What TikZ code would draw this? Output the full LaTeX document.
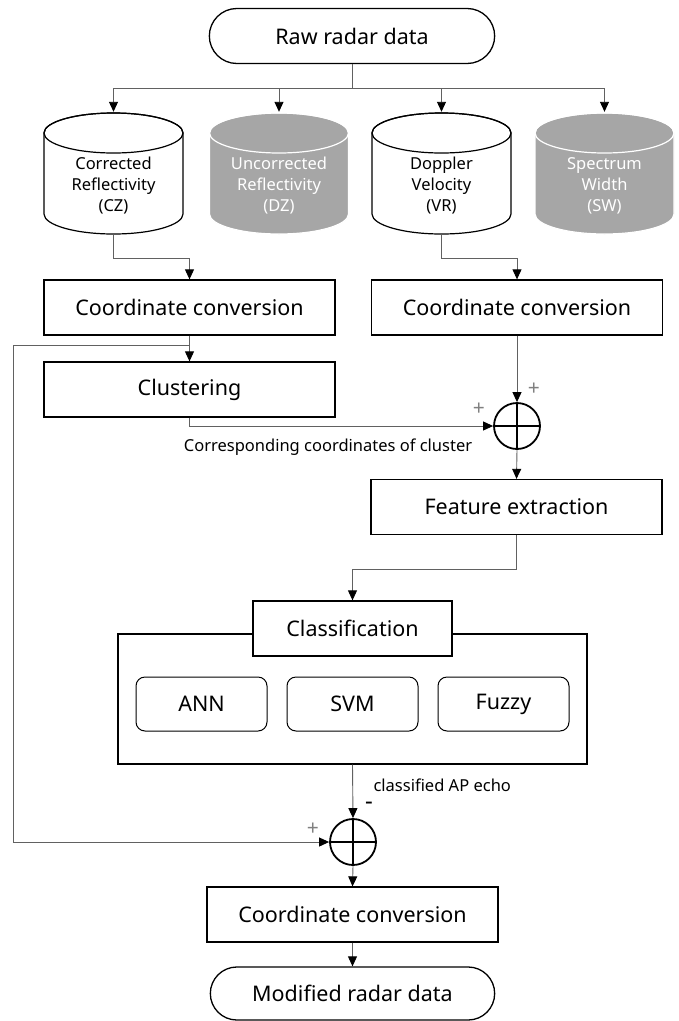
\documentclass[tikz,border=0pt]{standalone}
\usepackage{fontspec}
\setmainfont{Noto Sans}
\usetikzlibrary{shapes.misc}
\usetikzlibrary{arrows.meta}
\usetikzlibrary{positioning}
\definecolor{drumgray}{rgb}{0.65,0.65,0.65}
\definecolor{wiregray}{rgb}{0.38,0.38,0.38}

% cylinder outline inside a node's box
\newcommand\drumshape[2]{%
  \path[fill=#1, draw=#2, line width=1.2pt]
    ([xshift=1pt,yshift=-21pt]path picture bounding box.north west)
    -- ([xshift=1pt,yshift=21pt]path picture bounding box.south west)
    arc[start angle=180, end angle=360, x radius=69.5pt, y radius=20pt]
    -- ([xshift=-1pt,yshift=-21pt]path picture bounding box.north east)
    arc[start angle=0, end angle=180, x radius=69.5pt, y radius=20pt]
    -- cycle;
  \draw[#2, line width=1.2pt] ([yshift=-21pt]path picture bounding box.north)
    ellipse[x radius=69.5pt, y radius=20pt];}

\begin{document}
\begin{tikzpicture}[
  x=1pt, y=-1pt,
  box/.style={rectangle, draw, line width=1.3pt, fill=white, minimum width=291pt, minimum height=55pt, font=\fontsize{21.5}{26}\selectfont},
  term/.style={rounded rectangle, draw, line width=1.3pt, minimum width=292pt, minimum height=55pt, font=\fontsize{21.5}{26}\selectfont},
  drum/.style={rectangle, fill=white, inner sep=0pt, minimum width=141pt, minimum height=123pt, align=center, font=\fontsize{16.5}{21}\selectfont, path picture={\drumshape{white}{black}}},
  drumoff/.style={drum, text=white, path picture={\drumshape{drumgray}{white}}},
  algo/.style={rectangle, rounded corners=9pt, draw, line width=1pt, minimum width=131pt, minimum height=54pt, font=\fontsize{21.5}{26}\selectfont},
  adder/.style={circle, draw, line width=1.8pt, minimum size=46pt, inner sep=0pt},
  wire/.style={draw=wiregray, line width=0.9pt},
  go/.style={wire, -{Triangle[width=9pt,length=10pt,black]}},
  sign/.style={text=gray, font=\fontsize{21}{21}\selectfont},
  note/.style={font=\fontsize{16.5}{19}\selectfont}]
  \useasboundingbox (0,0) rectangle (678,1021);

  % inputs
  \node[term] (raw) at (352,36) {Raw radar data};
  \node[drum] (cz) at (113.5,173.5) {\mbox{}\\[16pt]Corrected\\Reflectivity\\(CZ)};
  \node[drumoff] (dz) at (279,173.5) {\mbox{}\\[16pt]Uncorrected\\Reflectivity\\(DZ)};
  \node[drum] (vr) at (441.5,173.5) {\mbox{}\\[16pt]Doppler\\Velocity\\(VR)};
  \node[drumoff] (sw) at (604.5,173.5) {\mbox{}\\[16pt]Spectrum\\Width\\(SW)};
  \coordinate (split) at (352,88);

  % processing
  \node[box] (ccl) at (189.5,307.5) {Coordinate conversion};
  \node[box] (ccr) at (517,307.5) {Coordinate conversion};
  \node[box] (clus) at (189.5,389.5) {Clustering};
  \node[adder] (add1) at (517,426) {};
  \node[box] (feat) at (516.5,507) {Feature extraction};
  \node[rectangle, draw, line width=1.3pt, minimum width=469pt, minimum height=130pt] (grp) at (352.5,699) {};
  \node[box, minimum width=199pt] (cls) at (352.5,628.5) {Classification};
  \node[algo] (svm) at (352.5,704) {SVM};
  \node[algo, left=19pt of svm] (ann) {ANN};
  \node[algo, right=19pt of svm] (fuzzy) {Fuzzy};
  \node[adder] (add2) at (353,842) {};
  \node[box] (ccb) at (352.5,914.5) {Coordinate conversion};
  \node[term, minimum width=291pt, minimum height=53pt] (mod) at (352.5,993.5) {Modified radar data};
  \coordinate (fb) at (13,345);

  % connectors
  \draw[wire] (raw.south) -- (split);
  \draw[wire] (cz.north |- split) -- (sw.north |- split);
  \foreach \c in {cz,dz,vr,sw}
    \draw[go] (\c.north |- split) -- (\c.north);
  \draw[go] (cz.south) -- ++(0,23) -| (ccl.north);
  \draw[go] (vr.south) -- ++(0,23) -| (ccr.north);
  \draw[go] (ccl.south) -- (clus.north);
  \draw[go] (ccl.south |- fb) -- (fb) |- (add2.west);
  \draw[go] (clus.south) |- (add1.west);
  \draw[go] (ccr.south) -- (add1.north);
  \draw[go] (add1.south) -- (feat.north);
  \draw[go] (feat.south) -- ++(0,34) -| (cls.north);
  \draw[go] (grp.south) -- (add2.north);
  \draw[go] (add2.south) -- (ccb.north);
  \draw[go] (ccb.south) -- (mod.north);
  \foreach \a in {add1,add2}
    \draw[line width=1.8pt] (\a.north) -- (\a.south) (\a.west) -- (\a.east);

  % labels
  \node[note] (cortxt) at (328,447) {Corresponding coordinates of cluster};
  \node[note, anchor=west] (echo) at (370,785) {classified AP echo};
  \node[sign] (p1) at (534,389) {+};
  \node[sign] (p2) at (479,409) {+};
  \node[sign] (p3) at (313,829) {+};
  \node[font=\fontsize{24}{24}\selectfont\bfseries] (m1) at (369,806) {-};
\end{tikzpicture}
\end{document}
